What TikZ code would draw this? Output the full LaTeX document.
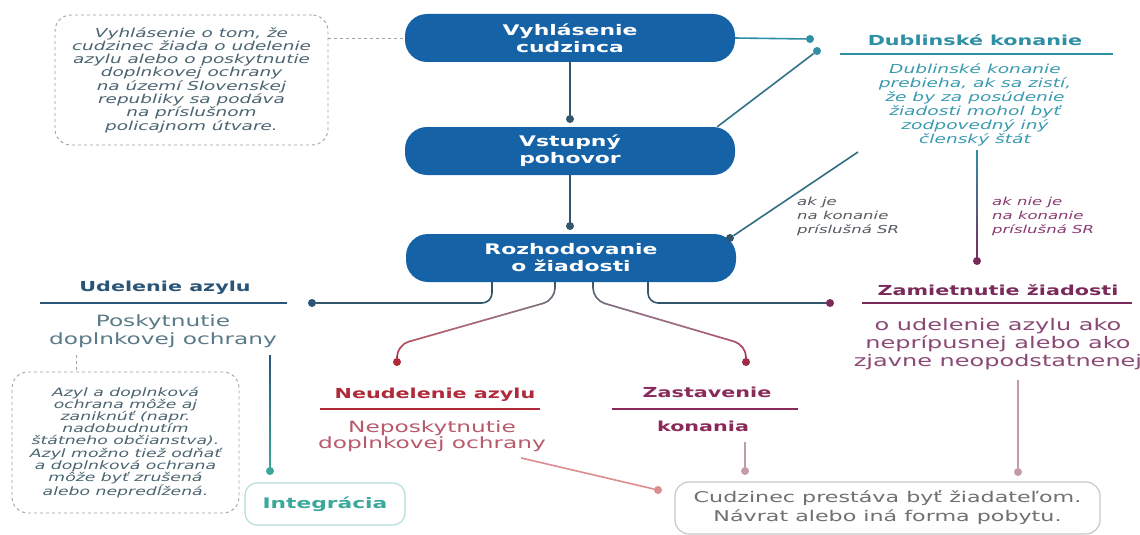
\documentclass[tikz,border=0pt]{standalone}
\usepackage{fontspec}
\setmainfont{DejaVu Sans}[FakeStretch=1.5]
\usetikzlibrary{calc,fadings}
\definecolor{pillblue}{HTML}{1662A6}
\definecolor{slate}{HTML}{34566B}
\definecolor{teal1}{HTML}{2F8FA5}
\definecolor{tealtxt}{HTML}{3A9BB0}
\definecolor{udblue}{HTML}{2A5577}
\definecolor{udtxt}{HTML}{5A7A88}
\definecolor{neured}{HTML}{B02A3A}
\definecolor{neutxt}{HTML}{B85A6A}
\definecolor{zaspur}{HTML}{8A2A5A}
\definecolor{zampur}{HTML}{7A2A5A}
\definecolor{zamtxt}{HTML}{8A4A75}
\definecolor{inttxt}{HTML}{3AA89A}
\definecolor{intborder}{HTML}{B8DCD8}
\definecolor{notetxt}{HTML}{4A6470}
\definecolor{notebord}{HTML}{A0A0A0}
\definecolor{endtxt}{HTML}{707070}
\definecolor{endbord}{HTML}{C8C8C8}
\definecolor{salmon}{HTML}{DC8C8E}
\definecolor{pinkgray}{HTML}{C39AAA}
\definecolor{akgray}{HTML}{555A60}
\definecolor{aknie}{HTML}{8A3A70}
\begin{document}
\begin{tikzpicture}[x=1pt,y=-1pt,
  pill/.style={rounded corners=22pt, fill=pillblue, text=white, font=\bfseries\fontsize{14.6}{17}\selectfont, minimum width=330pt, minimum height=48pt, align=center, inner sep=0pt},
  notebox/.style={draw=notebord, dashed, line width=0.9pt, rounded corners=16pt, text=notetxt, align=center, inner sep=0pt},
  head/.style={font=\bfseries\fontsize{13.8}{16}\selectfont, inner sep=0pt},
  body/.style={font=\fontsize{15.5}{17.5}\selectfont, align=center, inner sep=0pt},
  dot/.style={circle, fill, inner sep=0pt, minimum size=8pt},
  conn/.style={line width=1.6pt},
  uline/.style={line width=2.6pt}
]
\useasboundingbox (0,0) rectangle (1140,535);
\fill[white] (0,0) rectangle (1140,535);

% pills
\node[pill] (vyh) at (570,38) {Vyhlásenie\\cudzinca};
\node[pill] (vst) at (570,151) {Vstupný\\pohovor};
\node[pill] (roz) at (571,258) {Rozhodovanie\\o žiadosti};

% note 1
\node[notebox, minimum width=273pt, minimum height=130pt,
  font=\itshape\fontsize{12.3}{13.3}\selectfont] (note1) at (191.5,80)
  {Vyhlásenie o tom, že\\cudzinec žiada o udelenie\\azylu alebo o poskytnutie\\doplnkovej ochrany\\na území Slovenskej\\republiky sa podáva\\na príslušnom\\policajnom útvare.};
\draw[notebord, dashed, line width=0.8pt] (note1.east |- vyh.west) -- (vyh.west);

% pill connectors
\coordinate (d1) at (570,119);
\coordinate (d2) at (570,226);
\draw[slate, conn] (vyh.south) -- (d1);
\node[dot, slate] (d1n) at (d1) {};
\draw[slate, conn] (vst.south) -- (d2);
\node[dot, slate] (d2n) at (d2) {};

% Dublin
\node[head, text=teal1] (dubt) at (975,40) {Dublinské konanie};
\coordinate (dubL) at (840,54);
\coordinate (dubR) at (1113,54);
\draw[teal1, uline] (dubL) -- (dubR);
\node[font=\itshape\fontsize{12.4}{14}\selectfont, text=tealtxt, align=center, inner sep=0pt] (dubtxt) at (975,105)
  {Dublinské konanie\\prebieha, ak sa zistí,\\že by za posúdenie\\žiadosti mohol byť\\zodpovedný iný\\členský štát};
\node[dot, teal1] (tdot1) at (810,39) {};
\node[dot, teal1] (tdot2) at (817,51) {};
\draw[teal1, conn] (vyh.east) -- (tdot1);
\draw[slate!50!teal1, conn] ($(vst.north east)+(-18,0)$) -- (tdot2);
\coordinate (dubBL) at (858,152);
\node[dot, slate] (rdot) at (730,238) {};
\draw[slate!60!teal1, conn] (rdot) -- (dubBL);

\node[font=\itshape\fontsize{11}{14}\selectfont, text=akgray, align=left, anchor=west, inner sep=0pt] (akje) at (797,216)
  {ak je\\na konanie\\príslušná SR};
\node[font=\itshape\fontsize{11}{14}\selectfont, text=aknie, align=left, anchor=west, inner sep=0pt] (aknieje) at (992,216)
  {ak nie je\\na konanie\\príslušná SR};

\coordinate (dubB) at (977,150);
\node[dot, zampur] (zdot) at (977,261) {};
\shade[top color=teal1, bottom color=zampur] ($(dubB)+(-0.8,0)$) rectangle ($(zdot)+(0.8,0)$);

% Zamietnutie
\node[head, text=zampur] (zamt) at (998,290) {Zamietnutie žiadosti};
\draw[zampur, uline] (862,303) -- (1132,303);
\node[body, text=zamtxt, font=\fontsize{16}{18}\selectfont] (zamtxt) at (998,344)
  {o udelenie azylu ako\\neprípusnej alebo ako\\zjavne neopodstatnenej};
\node[dot, pinkgray] (zdot2) at (1018,472) {};
\draw[pinkgray, conn] (1018,380) -- (zdot2);

% Udelenie
\node[head, text=udblue] (udt) at (165,288) {Udelenie azylu};
\draw[udblue, uline] (40,303) -- (287,303);
\node[body, text=udtxt] (udtxt) at (163,331) {Poskytnutie\\doplnkovej ochrany};
\node[dot, udblue] (udot) at (312,303) {};
\node[dot, inttxt] (idot) at (270,471) {};
\shade[top color=udblue, bottom color=inttxt] (269.2,355) rectangle ($(idot)+(0.8,0)$);
\node[draw=intborder, line width=1.2pt, rounded corners=12pt, minimum width=160pt, minimum height=42pt, text=inttxt, font=\bfseries\fontsize{14.5}{17}\selectfont, inner sep=0pt] (int) at (325,504) {Integrácia};

% note 2
\node[notebox, minimum width=227pt, minimum height=141pt,
  font=\itshape\fontsize{11.5}{12.1}\selectfont] (note2) at (125.5,442.5)
  {Azyl a doplnková\\ochrana môže aj\\zaniknúť (napr.\\nadobudnutím\\štátneho občianstva).\\Azyl možno tiež odňať\\a doplnková ochrana\\môže byť zrušená\\alebo nepredĺžená.};
\draw[notebord, dashed, line width=0.8pt] (76,355) -- (note2.north -| 76,0);

% Neudelenie
\node[head, text=neured] (neut) at (435,395) {Neudelenie azylu};
\draw[neured, uline] (320,409) -- (540,409);
\node[body, text=neutxt, font=\fontsize{15.5}{16.5}\selectfont] (neutxt) at (432,436) {Neposkytnutie\\doplnkovej ochrany};
\node[dot, neured] (ndot) at (397,362) {};

% Zastavenie
\node[head, text=zaspur] (zast) at (707,392) {Zastavenie};
\draw[zaspur, uline] (612,409) -- (798,409);
\node[head, text=zaspur] (zast2) at (703,426) {konania};
\node[dot, neured!60!zaspur] (zsdot) at (746,362) {};
\node[dot, pinkgray] (zsdot2) at (745,471) {};
\draw[pinkgray, conn] (745,442) -- (zsdot2);

% branches from Rozhodovanie
\draw[slate, conn, rounded corners=10pt] (roz.south -| 492,0) |- (udot);
\draw[slate, conn, rounded corners=10pt] (roz.south -| 648,0) |- (830,303);
\node[dot, zampur] (zamdot) at (830,303) {};
\draw[slate, conn, rounded corners=12pt, path fading=south] (roz.south -| 555,0) -- (555,300) -- (397,345) -- (ndot);
\draw[neured, conn, rounded corners=12pt, path fading=north] (roz.south -| 555,0) -- (555,300) -- (397,345) -- (ndot);
\draw[slate, conn, rounded corners=12pt, path fading=south] (roz.south -| 593,0) -- (593,300) -- (746,345) -- (zsdot);
\draw[neured!60!zaspur, conn, rounded corners=12pt, path fading=north] (roz.south -| 593,0) -- (593,300) -- (746,345) -- (zsdot);

% final box
\node[draw=endbord, line width=1.2pt, rounded corners=14pt, minimum width=425pt, minimum height=52pt, text=endtxt, align=center, font=\fontsize{14.8}{19}\selectfont, inner sep=0pt] (end) at (887.5,508)
  {Cudzinec prestáva byť žiadateľom.\\Návrat alebo iná forma pobytu.};
\node[dot, salmon] (sdot) at (658,490) {};
\draw[salmon, conn] ($(neutxt.south east)+(-25,6)$) -- (sdot);
\end{tikzpicture}
\end{document}
